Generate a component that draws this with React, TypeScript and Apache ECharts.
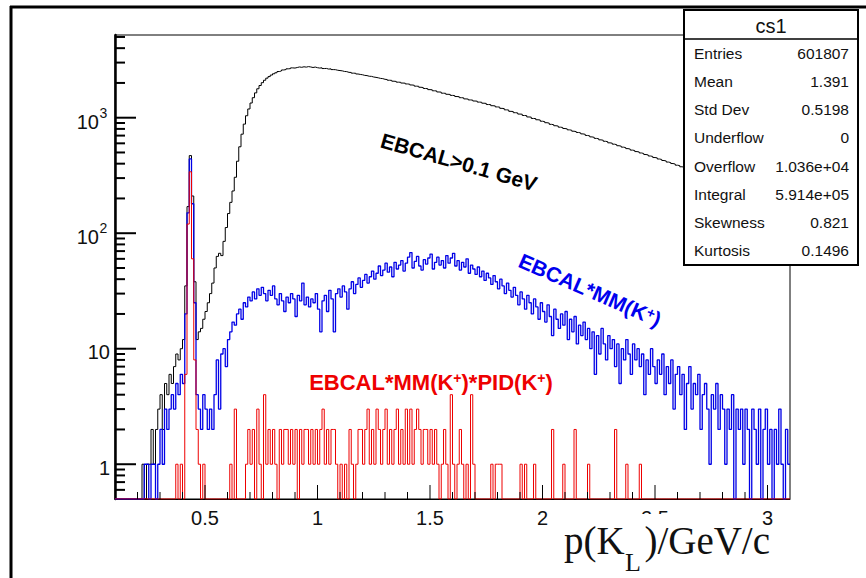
import React, { useEffect, useRef } from "react";
import * as echarts from "echarts";

// ---- axis ranges ----
const X_MIN = 0.1;
const X_MAX = 3.1;
const Y_MIN = 0.5;
const Y_MAX = 5200;

// ---- histogram binning: 300 bins of 0.01 from 0.10 ----
const BIN_START = 0.1;
const BIN_WIDTH = 0.01;

// EBCAL>0.1 GeV (black)
const blackCounts = [
  0, 0, 0, 0, 0, 0, 0, 0, 0, 0,
  0, 0, 1, 0, 1, 1, 2, 1, 2, 3,
  4, 2, 5, 4, 6, 5, 7, 9, 8, 10,
  12, 35, 170, 470, 210, 38, 12, 14, 15, 18,
  21, 25, 30, 37, 50, 63, 67, 64, 85, 112,
  148, 185, 232, 305, 420, 560, 720, 880, 1040, 1190,
  1340, 1490, 1640, 1780, 1900, 2010, 2110, 2200, 2270, 2340,
  2400, 2450, 2510, 2540, 2590, 2610, 2650, 2660, 2700, 2690,
  2720, 2750, 2730, 2760, 2740, 2770, 2750, 2720, 2745, 2710,
  2690, 2705, 2665, 2670, 2635, 2650, 2610, 2605, 2575, 2560,
  2545, 2515, 2505, 2470, 2465, 2430, 2425, 2390, 2370, 2355,
  2325, 2315, 2285, 2280, 2250, 2235, 2215, 2190, 2180, 2150,
  2140, 2110, 2105, 2070, 2060, 2030, 2025, 1995, 1990, 1960,
  1950, 1920, 1910, 1875, 1870, 1835, 1825, 1790, 1785, 1750,
  1745, 1710, 1705, 1670, 1665, 1630, 1625, 1595, 1590, 1560,
  1555, 1525, 1520, 1490, 1485, 1455, 1450, 1425, 1420, 1395,
  1390, 1365, 1360, 1335, 1330, 1300, 1298, 1270, 1265, 1240,
  1235, 1205, 1200, 1170, 1165, 1135, 1132, 1105, 1100, 1075,
  1072, 1045, 1042, 1015, 1012, 985, 983, 960, 955, 932,
  925, 905, 898, 876, 870, 852, 847, 828, 823, 806,
  800, 785, 779, 764, 758, 745, 738, 724, 718, 702,
  696, 682, 676, 662, 657, 643, 638, 625, 620, 606,
  602, 590, 584, 572, 567, 556, 551, 540, 535, 524,
  520, 509, 505, 495, 490, 480, 476, 466, 462, 452,
  449, 439, 435, 426, 422, 413, 409, 401, 397, 388,
  385, 376, 373, 365, 362, 354, 350, 343, 339, 331,
  328, 321, 318, 311, 308, 301, 298, 292, 289, 282,
  279, 273, 271, 265, 262, 256, 254, 249, 246, 240,
  238, 233, 231, 226, 223, 218, 216, 212, 209, 204,
  202, 198, 196, 192, 189, 185, 183, 180, 177, 173,
];

// EBCAL*MM(K+) (blue)
const blueCounts = [
  0, 0, 0, 0, 0, 0, 0, 0, 0, 0,
  0, 0, 0, 1, 1, 0, 1, 1, 0, 1,
  2, 1, 3, 2, 3, 4, 3, 5, 4, 6,
  5, 20, 150, 440, 180, 25, 4, 3, 2, 4,
  3, 2, 3, 2, 4, 8, 3, 9, 10, 7,
  12, 14, 17, 16, 20, 22, 18, 25, 23, 28,
  26, 31, 27, 33, 29, 34, 30, 26, 32, 29,
  35, 27, 24, 30, 26, 21, 28, 25, 30, 27,
  19, 29, 26, 37, 24, 28, 23, 27, 25, 30,
  22, 14, 26, 29, 21, 32, 27, 14, 30, 33,
  28, 35, 31, 22, 33, 38, 30, 36, 41, 34,
  39, 44, 37, 42, 47, 40, 45, 52, 43, 48,
  55, 46, 51, 42, 56, 49, 53, 58, 47, 55,
  62, 68, 50, 57, 63, 52, 48, 59, 54, 61,
  66, 49, 56, 62, 53, 58, 50, 64, 55, 61,
  67, 52, 58, 48, 56, 51, 60, 45, 53, 49,
  44, 51, 42, 47, 39, 45, 41, 36, 43, 38,
  33, 40, 35, 30, 37, 32, 28, 34, 29, 24,
  31, 27, 22, 29, 25, 20, 27, 23, 18, 25,
  21, 17, 24, 19, 13, 22, 18, 15, 20, 16,
  21, 12, 18, 14, 19, 11, 16, 13, 17, 12,
  15, 10, 14, 6, 13, 9, 15, 11, 8, 13,
  10, 12, 7, 11, 5, 10, 8, 12, 9, 6,
  11, 8, 10, 7, 9, 4, 8, 6, 10, 7,
  5, 8, 6, 9, 4, 7, 5, 8, 3, 6,
  7, 4, 6, 2, 5, 7, 3, 5, 4, 6,
  2, 4, 5, 3, 1, 4, 3, 5, 2, 4,
  3, 1, 3, 2, 4, 0, 3, 2, 3, 1,
  3, 2, 0, 3, 2, 1, 3, 0, 2, 3,
  1, 2, 0, 2, 1, 3, 1, 0, 2, 1,
];

// EBCAL*MM(K+)*PID(K+) (red)
const redCounts = [
  0, 0, 0, 0, 0, 0, 0, 0, 0, 0,
  0, 0, 0, 0, 0, 0, 0, 0, 0, 0,
  0, 0, 0, 0, 0, 0, 0, 1, 0, 1,
  0, 6, 120, 340, 60, 8, 2, 1, 0, 1,
  0, 0, 0, 0, 0, 0, 0, 0, 0, 0,
  0, 1, 0, 3, 0, 0, 0, 0, 1, 2,
  1, 2, 0, 3, 1, 0, 4, 1, 2, 1,
  2, 1, 0, 2, 1, 2, 2, 1, 2, 1,
  2, 0, 2, 1, 2, 2, 1, 2, 1, 2,
  1, 2, 3, 1, 2, 1, 2, 2, 1, 0,
  1, 0, 1, 0, 2, 1, 0, 1, 2, 2,
  1, 2, 3, 1, 2, 1, 3, 2, 1, 2,
  3, 1, 2, 1, 2, 3, 1, 2, 1, 3,
  1, 3, 1, 2, 3, 2, 1, 2, 2, 1,
  2, 1, 2, 1, 0, 1, 2, 1, 0, 4,
  1, 0, 1, 2, 1, 0, 1, 0, 4, 1,
  0, 0, 0, 0, 0, 0, 0, 1, 0, 1,
  1, 1, 0, 0, 0, 0, 0, 0, 0, 0,
  1, 0, 1, 0, 0, 0, 1, 0, 0, 0,
  0, 0, 0, 0, 2, 0, 0, 0, 0, 1,
  0, 0, 0, 0, 2, 0, 0, 0, 0, 0,
  1, 0, 0, 0, 0, 0, 0, 0, 0, 0,
  0, 0, 2, 0, 0, 0, 0, 1, 0, 0,
  0, 0, 0, 1, 0, 0, 0, 0, 0, 0,
  0, 0, 0, 0, 0, 0, 0, 0, 0, 0,
  0, 0, 0, 0, 0, 0, 0, 0, 0, 0,
  0, 0, 0, 0, 0, 0, 0, 0, 0, 0,
  0, 0, 0, 0, 0, 0, 0, 0, 0, 0,
  0, 0, 0, 0, 0, 0, 0, 0, 0, 0,
  0, 0, 0, 0, 0, 0, 0, 0, 0, 0,
];

// ---- ticks & labels ----
const xMajorTicks = [0.5, 1, 1.5, 2, 2.5, 3];
const xTickLabels = ["0.5", "1", "1.5", "2", "2.5", "3"];
const xMinorTicks = [
  0.2, 0.3, 0.4, 0.6, 0.7, 0.8, 0.9, 1.1, 1.2, 1.3, 1.4, 1.6, 1.7, 1.8, 1.9,
  2.1, 2.2, 2.3, 2.4, 2.6, 2.7, 2.8, 2.9,
];
const yMajorTicks = [1, 10, 100, 1000];
const yLabelBase = ["1", "10", "10", "10"];
const yLabelExp = ["", "", "2", "3"];
const yMinorTicks = [
  0.6, 0.7, 0.8, 0.9, 2, 3, 4, 5, 6, 7, 8, 9, 20, 30, 40, 50, 60, 70, 80, 90,
  200, 300, 400, 500, 600, 700, 800, 900, 2000, 3000, 4000, 5000,
];

// ---- stats box ----
const statsTitle = "cs1";
const statsNames = ["Entries", "Mean", "Std Dev", "Underflow", "Overflow", "Integral", "Skewness", "Kurtosis"];
const statsValues = ["601807", "1.391", "0.5198", "0", "1.036e+04", "5.914e+05", "0.821", "0.1496"];

const FONT = '"Liberation Sans", Arial, Helvetica, sans-serif';
const SERIF = '"Liberation Serif", "Times New Roman", Times, serif';

function histData(counts: number[]) {
  const pts: number[][] = [];
  for (let i = 0; i < counts.length; i++) {
    const edge = +(BIN_START + BIN_WIDTH * i).toFixed(4);
    pts.push([edge, counts[i] > 0 ? counts[i] : Y_MIN]);
  }
  const last = counts[counts.length - 1];
  pts.push([+(BIN_START + BIN_WIDTH * counts.length).toFixed(4), last > 0 ? last : Y_MIN]);
  return pts;
}

function histSeries(name: string, counts: number[], color: string, width: number, z: number) {
  return {
    name,
    type: "line",
    step: "end",
    data: histData(counts),
    showSymbol: false,
    symbol: "none",
    silent: true,
    clip: true,
    z,
    lineStyle: { color, width },
    itemStyle: { color },
  };
}

function txt(x: number, y: number, text: string, size: number, align: string, extra: any = {}) {
  return {
    type: "text",
    x,
    y,
    style: {
      text,
      fill: "#000",
      fontSize: size,
      fontFamily: FONT,
      textAlign: align,
      align,
      textVerticalAlign: "middle",
      verticalAlign: "middle",
      ...extra,
    },
  };
}

const axisDecor = {
  type: "custom",
  coordinateSystem: "cartesian2d",
  data: [[X_MIN, Y_MIN]],
  clip: false,
  silent: true,
  z: 5,
  renderItem: (_params: any, api: any) => {
    const children: any[] = [];
    const lineStyle = { stroke: "#000", lineWidth: 1 };
    xMajorTicks.forEach((v, i) => {
      const p = api.coord([v, Y_MIN]);
      children.push({ type: "line", shape: { x1: p[0], y1: p[1], x2: p[0], y2: p[1] - 14 }, style: lineStyle });
      children.push(txt(p[0], p[1] + 19, xTickLabels[i], 20, "center", { fill: "#111" }));
    });
    xMinorTicks.forEach((v) => {
      const p = api.coord([v, Y_MIN]);
      children.push({ type: "line", shape: { x1: p[0], y1: p[1], x2: p[0], y2: p[1] - 7 }, style: lineStyle });
    });
    yMajorTicks.forEach((v, i) => {
      const p = api.coord([X_MIN, v]);
      children.push({ type: "line", shape: { x1: p[0], y1: p[1], x2: p[0] + 21, y2: p[1] }, style: { stroke: "#000", lineWidth: 2 } });
      if (yLabelExp[i]) {
        children.push(txt(p[0] - 16, p[1] + 4, yLabelBase[i], 20, "right", { fill: "#111" }));
        children.push(txt(p[0] - 15.5, p[1] - 5, yLabelExp[i], 14, "left", { fill: "#111" }));
      } else {
        children.push(txt(p[0] - 5, p[1] + 3.5, yLabelBase[i], 20, "right", { fill: "#111" }));
      }
    });
    yMinorTicks.forEach((v) => {
      const p = api.coord([X_MIN, v]);
      children.push({ type: "line", shape: { x1: p[0], y1: p[1], x2: p[0] + 10, y2: p[1] }, style: { stroke: "#000", lineWidth: 2 } });
    });
    return { type: "group", children };
  },
};

const richBold = (color: string, size: number) => ({
  b: { fontSize: size, fontWeight: "bold", fontFamily: FONT, fill: color, color },
  s: { fontSize: Math.round(size * 0.65), fontWeight: "bold", fontFamily: FONT, fill: color, color, verticalAlign: "top" },
});

const graphic: any[] = [
  // page frame
  { type: "line", z: 100, shape: { x1: 11, y1: 6, x2: 11, y2: 578 }, style: { stroke: "#000", lineWidth: 3 } },
  { type: "line", z: 100, shape: { x1: 10, y1: 7, x2: 866, y2: 7 }, style: { stroke: "#000", lineWidth: 3 } },
  // annotations
  {
    type: "text", x: 459, y: 162, rotation: -0.28, z: 50,
    style: { text: "EBCAL>0.1 GeV", fill: "#000", fontSize: 21, fontWeight: "bold", fontFamily: FONT, textAlign: "center", align: "center", textVerticalAlign: "middle", verticalAlign: "middle" },
  },
  {
    type: "text", x: 590, y: 290, rotation: -0.41, z: 50,
    style: { text: "{b|EBCAL*MM(K}{s|+}{b|)}", rich: richBold("#0000ee", 21), textAlign: "center", align: "center", textVerticalAlign: "middle", verticalAlign: "middle" },
  },
  {
    type: "text", x: 431, y: 382, z: 50,
    style: { text: "{b|EBCAL*MM(K}{s|+}{b|)*PID(K}{s|+}{b|)}", rich: richBold("#ee0000", 22), textAlign: "center", align: "center", textVerticalAlign: "middle", verticalAlign: "middle" },
  },
  // stats box
  { type: "rect", z: 100, shape: { x: 684, y: 10, width: 174, height: 255 }, style: { fill: "#fff", stroke: "#000", lineWidth: 2 } },
  { type: "line", z: 101, shape: { x1: 684, y1: 39, x2: 858, y2: 39 }, style: { stroke: "#000", lineWidth: 1.5 } },
  { ...txt(771, 26, statsTitle, 20, "center", { fill: "#111" }), z: 101 },
  ...statsNames.map((n, i) => ({ ...txt(694, 53 + i * 28.25, n, 15.5, "left", { fill: "#111" }), z: 101 })),
  ...statsValues.map((v, i) => ({ ...txt(849, 53 + i * 28.25, v, 15.5, "right", { fill: "#111" }), z: 101 })),
  // axis title with white background (it hides part of the 2.5 label, as in the original)
  { type: "rect", z: 100, shape: { x: 556, y: 514, width: 198, height: 64 }, style: { fill: "#fff" } },
  { ...txt(564, 540, "p(K", 39, "left", { fontFamily: SERIF, fill: "#111" }), z: 101 },
  { ...txt(625, 562, "L", 26, "left", { fontFamily: SERIF, fill: "#111" }), z: 101 },
  { ...txt(770, 540, ")/GeV/c", 39, "right", { fontFamily: SERIF, fill: "#111" }), z: 101 },
];

const option: any = {
  animation: false,
  backgroundColor: "#fff",
  grid: {
    left: 115,
    top: 35,
    width: 675,
    height: 464,
    show: true,
    borderColor: "#000",
    borderWidth: 1,
    backgroundColor: "transparent",
  },
  xAxis: {
    type: "value",
    min: X_MIN,
    max: X_MAX,
    axisLine: { show: true, onZero: false, lineStyle: { color: "#000", width: 1 } },
    axisTick: { show: false },
    axisLabel: { show: false },
    splitLine: { show: false },
  },
  yAxis: {
    type: "log",
    logBase: 10,
    min: Y_MIN,
    max: Y_MAX,
    axisLine: { show: true, lineStyle: { color: "#000", width: 2.5 } },
    axisTick: { show: false },
    axisLabel: { show: false },
    splitLine: { show: false },
    minorTick: { show: false },
    minorSplitLine: { show: false },
  },
  series: [
    histSeries("EBCAL>0.1 GeV", blackCounts, "#000000", 1, 2),
    histSeries("EBCAL*MM(K+)", blueCounts, "#0000e6", 1.3, 3),
    histSeries("EBCAL*MM(K+)*PID(K+)", redCounts, "#ee0000", 1, 4),
    axisDecor,
  ],
  graphic,
};

export default function App() {
  const ref = useRef<HTMLDivElement>(null);
  useEffect(() => {
    if (!ref.current) return;
    const chart = echarts.init(ref.current, null, { renderer: "svg" });
    chart.setOption(option);
    return () => chart.dispose();
  }, []);
  return (
    <div
      ref={ref}
      style={{ position: "fixed", left: 0, top: 0, width: 866, height: 578, background: "#fff" }}
    />
  );
}
